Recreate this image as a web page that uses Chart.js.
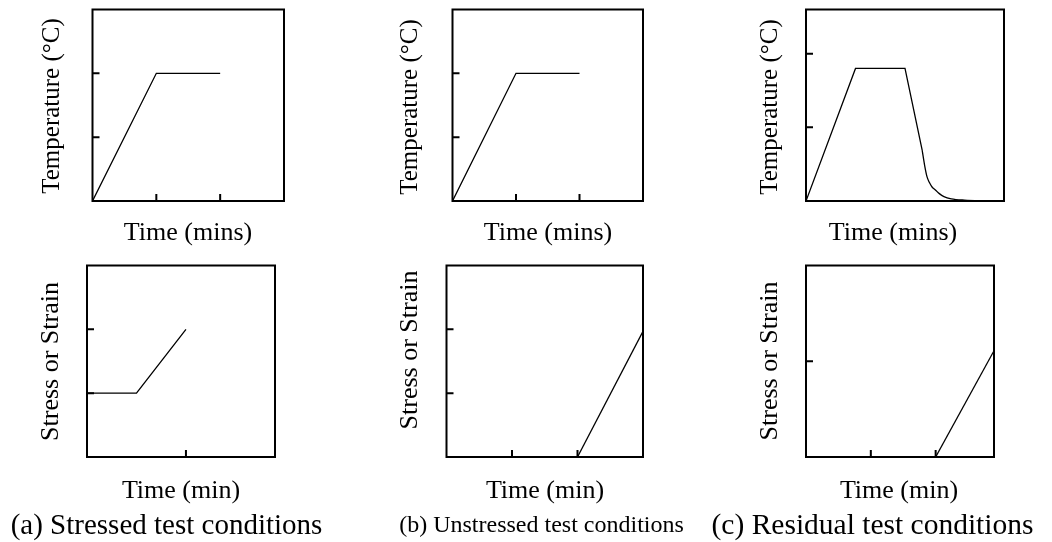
<!DOCTYPE html>
<html>
<head>
<meta charset="utf-8">
<title>Test conditions</title>
<script src="https://cdn.jsdelivr.net/npm/chart.js@4.4.1/dist/chart.umd.min.js"></script>
<style>
  html, body { margin: 0; padding: 0; background: #fff; }
  #page { position: relative; width: 1052px; height: 542px; overflow: hidden; }
  #page canvas { position: absolute; }
</style>
</head>
<body>
<div id="page"></div>
<script>
// ---- (a) stressed test: heat up, hold, load applied while hot ----
const aTempTime  = [0, 1, 2];
const aTempValue = [0, 2, 2];
const aLoadTime  = [0, 0.5, 1];
const aLoadValue = [1, 1, 2];

// ---- (b) unstressed test: heat up, hold, then load ----
const bTempTime  = [0, 1, 2];
const bTempValue = [0, 2, 2];
const bLoadTime  = [2, 3];
const bLoadValue = [0, 1.97];

// ---- (c) residual test: heat, hold, cool down, then load ----
const cHeatTime  = [0, 0.75, 1.5, 1.76];
const cHeatValue = [0, 1.8, 1.8, 0.69];
const cCoolTime  = [1.76, 1.8, 1.833, 1.87, 1.91, 1.96, 2.02, 2.09, 2.2, 2.4, 2.7, 3];
const cCoolValue = [0.69, 0.47, 0.33, 0.25, 0.19, 0.15, 0.1, 0.06, 0.03, 0.012, 0.004, 0];
const cLoadTime  = [2, 2.9];
const cLoadValue = [0, 1.11];

// ---- tick positions (unlabelled, drawn inward) ----
const aTempXTicks = [1, 2], aTempYTicks = [1, 2];
const aLoadXTicks = [1],    aLoadYTicks = [1, 2];
const bTempXTicks = [1, 2], bTempYTicks = [1, 2];
const bLoadXTicks = [1, 2], bLoadYTicks = [1, 2];
const cTempXTicks = [],     cTempYTicks = [1, 2];
const cLoadXTicks = [1, 2], cLoadYTicks = [1];

// ---- text ----
const tempTitle  = 'Temperature (°C)';
const loadTitle  = 'Stress or Strain';
const timeTitleTop = 'Time (mins)';
const timeTitleBottom = 'Time (min)';
const captions = ['(a) Stressed test conditions', '(b) Unstressed test conditions', '(c) Residual test conditions'];

const SERIF = '"Liberation Serif", "Times New Roman", Times, serif';
const INK = '#000';

const pts = (xs, ys) => xs.map((x, i) => ({ x, y: ys[i] }));

// frame, inward ticks, axis titles and caption for one panel
const panelDecor = {
  id: 'panelDecor',
  afterDatasetsDraw(chart, args, o) {
    const { ctx, chartArea: a, scales: { x, y } } = chart;
    ctx.save();
    ctx.strokeStyle = INK;
    ctx.lineWidth = 2;
    ctx.strokeRect(a.left, a.top, a.right - a.left, a.bottom - a.top);
    ctx.beginPath();
    o.xTicks.forEach(v => {
      const px = x.getPixelForValue(v);
      ctx.moveTo(px, a.bottom); ctx.lineTo(px, a.bottom - 7);
    });
    o.yTicks.forEach(v => {
      const py = y.getPixelForValue(v);
      ctx.moveTo(a.left, py); ctx.lineTo(a.left + 7, py);
    });
    ctx.stroke();

    ctx.fillStyle = INK;
    ctx.textAlign = 'center';
    // y title, rotated
    ctx.font = `${o.yTitleSize}px ${SERIF}`;
    ctx.textBaseline = 'middle';
    ctx.save();
    ctx.translate(o.yTitlePos[0] - o.cell.x, o.yTitlePos[1] - o.cell.y);
    ctx.rotate(-Math.PI / 2);
    ctx.fillText(o.yTitle, 0, 0);
    ctx.restore();
    // x title
    ctx.textBaseline = 'alphabetic';
    ctx.font = `${o.xTitleSize}px ${SERIF}`;
    ctx.fillText(o.xTitle, o.xTitlePos[0] - o.cell.x, o.xTitlePos[1] - o.cell.y);
    // caption under bottom-row panels
    if (o.caption) {
      ctx.font = `${o.captionSize}px ${SERIF}`;
      ctx.fillText(o.caption, o.captionPos[0] - o.cell.x, o.captionPos[1] - o.cell.y);
    }
    ctx.restore();
  }
};

const lineSet = (xs, ys, extra) => Object.assign({
  data: pts(xs, ys),
  borderColor: INK,
  borderWidth: 1.3,
  pointRadius: 0,
  tension: 0,
  fill: false
}, extra || {});

const panels = [
  { cell: { x: 0, y: 0, w: 350, h: 260 }, box: { l: 92.5, t: 9.5, r: 284, b: 201 },
    xRange: [0, 3], yRange: [0, 3], xTicks: aTempXTicks, yTicks: aTempYTicks,
    sets: [lineSet(aTempTime, aTempValue)],
    yTitle: tempTitle, yTitleSize: 25, yTitlePos: [52, 106],
    xTitle: timeTitleTop, xTitleSize: 26, xTitlePos: [188, 240] },
  { cell: { x: 0, y: 260, w: 350, h: 282 }, box: { l: 87, t: 265.5, r: 275, b: 457 },
    xRange: [0, 1.9], yRange: [0, 3], xTicks: aLoadXTicks, yTicks: aLoadYTicks,
    sets: [lineSet(aLoadTime, aLoadValue)],
    yTitle: loadTitle, yTitleSize: 26, yTitlePos: [51, 361.5],
    xTitle: timeTitleBottom, xTitleSize: 26, xTitlePos: [181, 498],
    caption: captions[0], captionSize: 29, captionPos: [166.5, 534] },
  { cell: { x: 350, y: 0, w: 350, h: 260 }, box: { l: 452.5, t: 9.5, r: 643, b: 201 },
    xRange: [0, 3], yRange: [0, 3], xTicks: bTempXTicks, yTicks: bTempYTicks,
    sets: [lineSet(bTempTime, bTempValue)],
    yTitle: tempTitle, yTitleSize: 25, yTitlePos: [410.5, 107],
    xTitle: timeTitleTop, xTitleSize: 26, xTitlePos: [548, 240] },
  { cell: { x: 350, y: 260, w: 350, h: 282 }, box: { l: 446.5, t: 265.5, r: 643, b: 457 },
    xRange: [0, 3], yRange: [0, 3], xTicks: bLoadXTicks, yTicks: bLoadYTicks,
    sets: [lineSet(bLoadTime, bLoadValue)],
    yTitle: loadTitle, yTitleSize: 26, yTitlePos: [410.5, 350],
    xTitle: timeTitleBottom, xTitleSize: 26, xTitlePos: [545, 498],
    caption: captions[1], captionSize: 24, captionPos: [541.5, 532] },
  { cell: { x: 700, y: 0, w: 352, h: 260 }, box: { l: 806, t: 9.5, r: 1004, b: 201 },
    xRange: [0, 3], yRange: [0, 2.6], xTicks: cTempXTicks, yTicks: cTempYTicks,
    sets: [lineSet(cHeatTime, cHeatValue), lineSet(cCoolTime, cCoolValue, { cubicInterpolationMode: 'monotone' })],
    yTitle: tempTitle, yTitleSize: 25, yTitlePos: [770, 107],
    xTitle: timeTitleTop, xTitleSize: 26, xTitlePos: [893, 240] },
  { cell: { x: 700, y: 260, w: 352, h: 282 }, box: { l: 806, t: 265.5, r: 994, b: 457 },
    xRange: [0, 2.9], yRange: [0, 2], xTicks: cLoadXTicks, yTicks: cLoadYTicks,
    sets: [lineSet(cLoadTime, cLoadValue)],
    yTitle: loadTitle, yTitleSize: 26, yTitlePos: [770, 361],
    xTitle: timeTitleBottom, xTitleSize: 26, xTitlePos: [899, 498],
    caption: captions[2], captionSize: 29.5, captionPos: [872.5, 534] }
];

const page = document.getElementById('page');
panels.forEach(p => {
  const cv = document.createElement('canvas');
  cv.width = p.cell.w; cv.height = p.cell.h;
  cv.style.left = p.cell.x + 'px'; cv.style.top = p.cell.y + 'px';
  cv.style.width = p.cell.w + 'px'; cv.style.height = p.cell.h + 'px';
  page.appendChild(cv);
  new Chart(cv, {
    type: 'line',
    data: { datasets: p.sets },
    plugins: [panelDecor],
    options: {
      responsive: false,
      animation: false,
      devicePixelRatio: 1,
      events: [],
      layout: { padding: {
        left: p.box.l - p.cell.x,
        top: p.box.t - p.cell.y,
        right: p.cell.x + p.cell.w - p.box.r,
        bottom: p.cell.y + p.cell.h - p.box.b
      } },
      scales: {
        x: { type: 'linear', min: p.xRange[0], max: p.xRange[1], display: false },
        y: { type: 'linear', min: p.yRange[0], max: p.yRange[1], display: false }
      },
      plugins: {
        legend: { display: false },
        tooltip: { enabled: false },
        panelDecor: {
          cell: p.cell, xTicks: p.xTicks, yTicks: p.yTicks,
          yTitle: p.yTitle, yTitleSize: p.yTitleSize, yTitlePos: p.yTitlePos,
          xTitle: p.xTitle, xTitleSize: p.xTitleSize, xTitlePos: p.xTitlePos,
          caption: p.caption, captionSize: p.captionSize, captionPos: p.captionPos
        }
      }
    }
  });
});
</script>
</body>
</html>
